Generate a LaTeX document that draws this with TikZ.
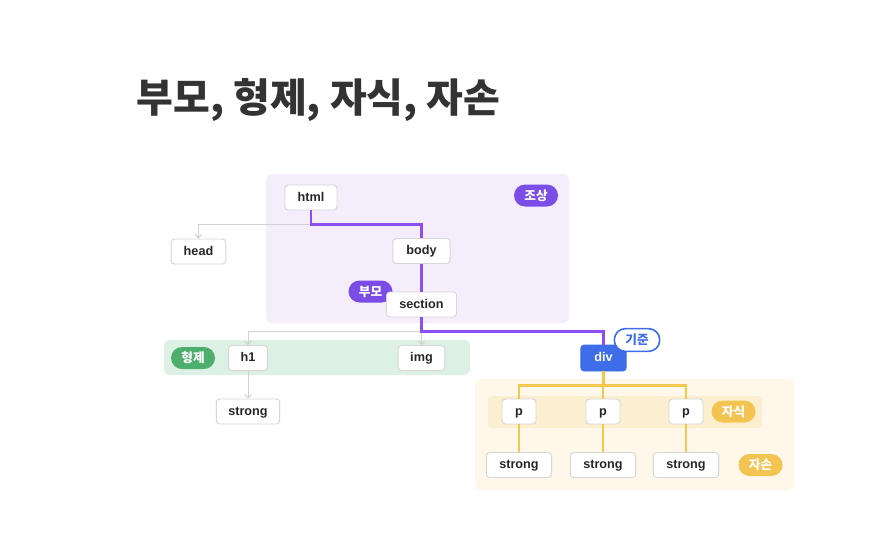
\documentclass[tikz,border=0pt]{standalone}
\usepackage{fontspec}
\setmainfont{Noto Sans CJK KR}
\newfontfamily\latinfont{Liberation Sans}
\usetikzlibrary{arrows.meta,positioning}
\usepackage{xcolor}

\definecolor{titlegray}{HTML}{333333}
\definecolor{nodeline}{HTML}{D6D6D6}
\definecolor{nodetext}{HTML}{262626}
\definecolor{lavender}{HTML}{F3EDFC}
\definecolor{purpleline}{HTML}{8A4EF2}
\definecolor{purplebadge}{HTML}{7B4CE6}
\definecolor{mint}{HTML}{DCF0E3}
\definecolor{greenbadge}{HTML}{4DAE6E}
\definecolor{divblue}{HTML}{3D6DE8}
\definecolor{cream}{HTML}{FFF8EA}
\definecolor{sand}{HTML}{FCEFCF}
\definecolor{yellowline}{HTML}{F2C84E}
\definecolor{yellowbadge}{HTML}{F4C452}
\definecolor{grayline}{HTML}{D2D2D2}

\tikzset{
  tag/.style={draw=nodeline, fill=white, rounded corners=2.5pt, line width=0.7pt,
    minimum height=18.75pt, inner sep=0pt, text=nodetext, text height=7.3pt, text depth=1.5pt,
    font=\latinfont\bfseries\fontsize{9.5}{10}\selectfont},
  badge/.style={rounded corners=8.25pt, minimum width=33pt, minimum height=16.5pt,
    inner sep=0pt, text=white, font=\bfseries\fontsize{9.5}{10}\selectfont},
  plainlink/.style={draw=grayline, line width=0.7pt, -{Straight Barb[length=2.5pt,width=5pt]}},
  parentlink/.style={draw=purpleline, line width=1.8pt},
  childlink/.style={draw=yellowline, line width=1.6pt}
}

\begin{document}
\begin{tikzpicture}[x=0.75pt,y=-0.75pt]
\useasboundingbox (0,0) rectangle (877,550);

% title
\node[text=titlegray, font=\bfseries\fontsize{30}{36}\selectfont] (title) at (318.5,100) {부모, 형제, 자식, 자손};

% background bands
\fill[lavender, rounded corners=4pt] (266,174) rectangle (569,323);
\fill[mint, rounded corners=4pt] (164,340) rectangle (470,375);
\fill[cream, rounded corners=5pt] (475,379) rectangle (794,490);
\fill[sand, rounded corners=3pt] (488,396) rectangle (762,428);

% element boxes
\node[tag, minimum width=39pt] (html) at (311,197.5) {html};
\node[tag, minimum width=41pt] (head) at (198.5,251.5) {head};
\node[tag, minimum width=43pt] (body) at (421.5,251) {body};
\node[badge, fill=purplebadge] (parentbadge) at (370.5,291.5) {부모};
\node[tag, minimum width=52.5pt] (section) at (421.5,304.5) {section};
\node[tag, minimum width=29pt] (h1) at (248,358) {h1};
\node[tag, minimum width=35pt] (img) at (421.5,358) {img};
\node[tag, minimum width=47.5pt] (strongA) at (248,411.5) {strong};
\node[tag, draw=divblue, fill=divblue, text=white, minimum width=34pt, minimum height=19.5pt] (div) at (603.5,358) {div};

\foreach \px/\nm in {519/1, 603/2, 686/3} {
  \node[tag, minimum width=25.5pt] (p\nm) at (\px,411.5) {p};
  \node[tag, minimum width=49pt] (s\nm) at (\px,465) {strong};
}

% badges
\node[badge, fill=purplebadge] (ancestor) at (536,195.5) {조상};
\node[badge, fill=greenbadge] (sibling) at (193,358) {형제};
\node[badge, fill=yellowbadge] (child) at (733.5,411.5) {자식};
\node[badge, fill=yellowbadge] (descendant) at (760.5,465) {자손};

% connectors
\draw[plainlink] (html.south) -- ++(0,14) -| (head.north);
\draw[plainlink] (section.south) -- ++(0,14) -| (h1.north);
\draw[plainlink] (section.south) -- (img.north);
\draw[plainlink] (h1.south) -- (strongA.north);
\draw[parentlink] (html.south) -- ++(0,14) -| (body.north);
\draw[parentlink] (body.south) -- (section.north);
\draw[parentlink] (section.south) -- ++(0,14) -| (div.north);
\foreach \nm in {1,2,3} {
  \draw[childlink] (div.south) -- ++(0,14) -| (p\nm.north);
  \draw[childlink] (p\nm.south) -- (s\nm.north);
}

% base badge on top of div
\node[badge, fill=white, draw=divblue, line width=1.2pt, text=divblue, minimum width=34pt, minimum height=17pt] (base) at (637,340) {기준};

\end{tikzpicture}
\end{document}
